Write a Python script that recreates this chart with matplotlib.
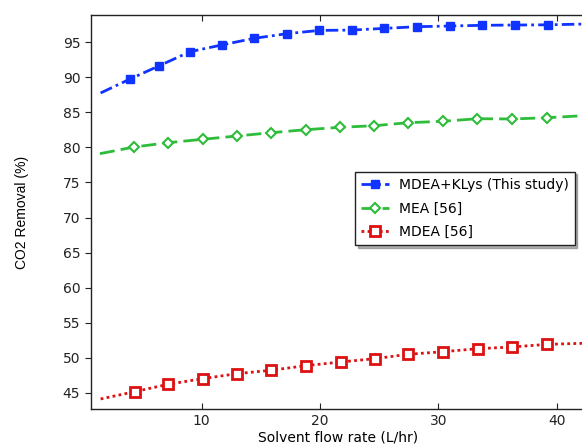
import matplotlib
matplotlib.use("Agg")
import matplotlib.pyplot as plt

# MDEA+KLys (This study)
klys_x = [1.46, 3.94, 6.42, 9.01, 11.69, 14.42, 17.19, 19.92, 22.68, 25.44, 28.17, 31.0, 33.72, 36.48, 39.25, 42.6]
klys_y = [87.77, 89.76, 91.66, 93.66, 94.62, 95.57, 96.23, 96.7, 96.75, 96.99, 97.23, 97.33, 97.43, 97.47, 97.5, 97.62]

# MEA [56]
mea_x = [1.40, 4.28, 7.18, 10.08, 12.96, 15.86, 18.79, 21.69, 24.57, 27.46, 30.37, 33.30, 36.21, 39.16, 42.6]
mea_y = [79.11, 80.06, 80.68, 81.16, 81.63, 82.10, 82.53, 82.87, 83.10, 83.53, 83.73, 84.10, 84.06, 84.24, 84.56]

# MDEA [56]
mdea_x = [1.46, 4.33, 7.18, 10.08, 12.98, 15.86, 18.79, 21.75, 24.62, 27.46, 30.42, 33.35, 36.25, 39.21, 42.6]
mdea_y = [44.10, 45.14, 46.20, 47.0, 47.71, 48.20, 48.85, 49.38, 49.85, 50.48, 50.85, 51.28, 51.52, 51.90, 52.06]

xticks = [10, 20, 30, 40]
yticks = [45, 50, 55, 60, 65, 70, 75, 80, 85, 90, 95]
labels = ["MDEA+KLys (This study)", "MEA [56]", "MDEA [56]"]

fig = plt.figure(figsize=(5.82, 4.44), dpi=100)
ax = fig.add_axes([0.1558, 0.0782, 0.8514, 0.888])

ax.plot(klys_x, klys_y, color="#1133ff", linestyle=(0, (4.5, 1.5, 1, 1.5)), linewidth=2.0,
        marker="s", markersize=5.8, markerfacecolor="#1133ff", markeredgecolor="#1133ff",
        markevery=list(range(1, len(klys_x) - 1)), label=labels[0])
ax.plot(mea_x, mea_y, color="#2ebd3a", linestyle=(0, (5.4, 2.2)), linewidth=2.0,
        marker="D", markersize=5.5, markerfacecolor="white", markeredgecolor="#2ebd3a",
        markeredgewidth=1.5, markevery=list(range(1, len(mea_x) - 1)), label=labels[1])
ax.plot(mdea_x, mdea_y, color="#dd1111", linestyle=(0, (1, 1.2)), linewidth=2.0,
        marker="s", markersize=6.5, markerfacecolor="white", markeredgecolor="#dd1111",
        markeredgewidth=2.0, markevery=list(range(1, len(mdea_x) - 1)), label=labels[2])

ax.set_xlim(0.62, 42.5)
ax.set_ylim(42.63, 98.9)
ax.set_xticks(xticks)
ax.set_yticks(yticks)
ax.tick_params(axis="x", direction="in", top=True, length=4, labelsize=10, colors="#222222")
ax.tick_params(axis="y", direction="out", right=False, length=4, labelsize=10, colors="#222222")
for sp in ax.spines.values():
    sp.set_color("#222222")
    sp.set_linewidth(1.0)
ax.spines["right"].set_visible(False)

ax.set_xlabel("Solvent flow rate (L/hr)", fontsize=10, labelpad=2)
ax.set_ylabel("CO2 Removal (%)", fontsize=10, family="Liberation Sans", labelpad=24)

leg = ax.legend(loc="upper left", bbox_to_anchor=(0.533, 0.603), borderaxespad=0, fontsize=10,
                fancybox=False, shadow={"ox": 2, "oy": -2, "color": "#666666"}, framealpha=1,
                edgecolor="#222222",
                handlelength=2.0, handletextpad=0.7, borderpad=0.45, labelspacing=0.7)
leg.get_frame().set_linewidth(1.0)

fig.savefig("out.png", dpi=100)
